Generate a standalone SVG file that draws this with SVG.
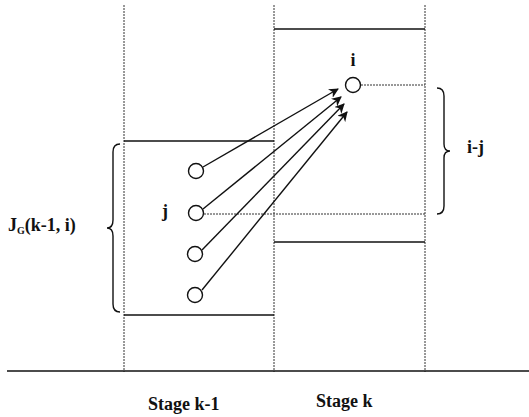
<svg xmlns="http://www.w3.org/2000/svg" width="529" height="417" viewBox="0 0 529 417">
<style>
.dot{stroke:#333;stroke-width:1;stroke-dasharray:2,1;fill:none}
.solid{stroke:#111;stroke-width:1.6;fill:none}
.node{fill:#fff;stroke:#111;stroke-width:1.4}
.arr{stroke:#111;stroke-width:1.4;fill:none;marker-end:url(#ah)}
.t{font-family:"Liberation Serif",serif;font-weight:bold;font-size:18px;fill:#111}
</style>
<defs>
<marker id="ah" viewBox="0 0 10 10" refX="9" refY="5" markerWidth="10" markerHeight="10" markerUnits="userSpaceOnUse" orient="auto">
<path d="M0,0 L10,5 L0,10 L3,5 Z" fill="#111"/>
</marker>
</defs>
<rect width="529" height="417" fill="#fff"/>
<g id="grid">
<line class="dot" x1="124" y1="5" x2="124" y2="372"/>
<line class="dot" x1="274" y1="5" x2="274" y2="372"/>
<line class="dot" x1="425" y1="5" x2="425" y2="372"/>
<line class="solid" x1="7" y1="371" x2="529" y2="371"/>
<line class="solid" x1="274" y1="29" x2="425" y2="29"/>
<line class="solid" x1="124" y1="141" x2="274" y2="141"/>
<line class="solid" x1="124" y1="315" x2="274" y2="315"/>
<line class="solid" x1="274" y1="242" x2="425" y2="242"/>
<line class="dot" x1="361" y1="85" x2="425" y2="85"/>
<line class="dot" x1="204" y1="214" x2="425" y2="214"/>
</g>
<g id="connectors">
<line class="arr" x1="203" y1="167" x2="338" y2="89"/>
<line class="arr" x1="203" y1="209" x2="341" y2="97"/>
<line class="arr" x1="202" y1="250" x2="344" y2="104"/>
<line class="arr" x1="202" y1="290" x2="347" y2="112"/>
</g>
<g id="node-i"><circle class="node" cx="353" cy="85" r="7.5"/><text class="t" x="353" y="66" text-anchor="middle" font-size="17">i</text></g>
<g id="node-1"><circle class="node" cx="196" cy="171" r="7.5"/></g>
<g id="node-j"><circle class="node" cx="196" cy="213" r="7.5"/><text class="t" x="162" y="217" font-size="17">j</text></g>
<g id="node-3"><circle class="node" cx="195" cy="254" r="7.5"/></g>
<g id="node-4"><circle class="node" cx="195" cy="295" r="7.5"/></g>
<g id="brace-left">
<path class="solid" d="M120,144 Q113,144 113,152 L113,220 Q113,228 107,228 Q113,228 113,236 L113,304 Q113,312 120,312" style="stroke-width:1.4"/>
<text class="t" x="8" y="231">J<tspan font-size="10" dy="3">G</tspan><tspan dy="-3">(k-1, i)</tspan></text>
</g>
<g id="brace-right">
<path class="solid" d="M437,88 Q444,88 444,96 L444,144 Q444,151 450,151 Q444,151 444,158 L444,206 Q444,214 437,214" style="stroke-width:1.4"/>
<text class="t" x="467" y="153" font-size="17">i-j</text>
</g>
<text class="t" x="148" y="410">Stage k-1</text>
<text class="t" x="316" y="407">Stage k</text>
</svg>
